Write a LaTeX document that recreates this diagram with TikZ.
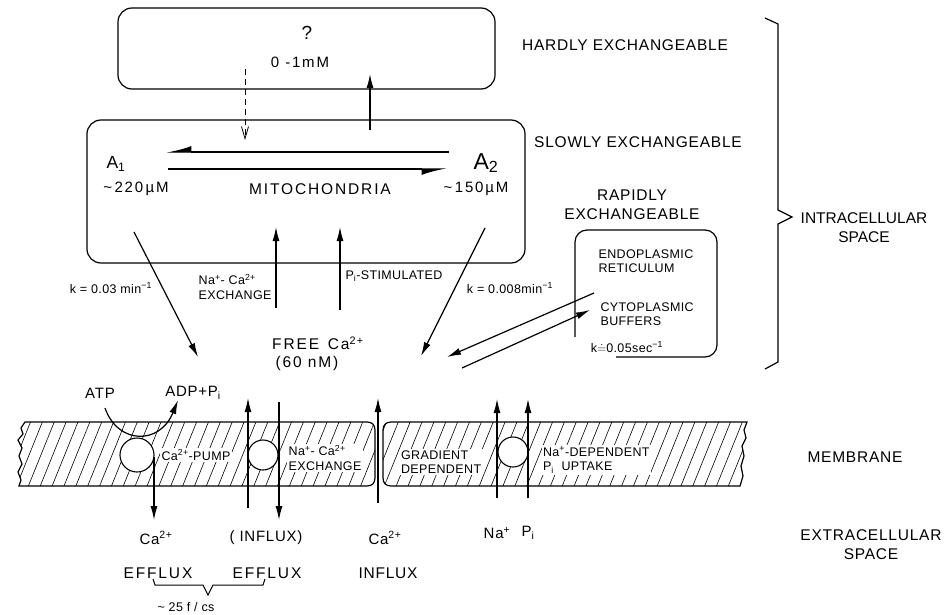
\documentclass[tikz,border=0pt]{standalone}
\usepackage{fontspec}
\setmainfont{Liberation Sans}
\newfontfamily\spc[LetterSpace=5]{Liberation Sans}
\newfontfamily\spcs[LetterSpace=3]{Liberation Sans}
\newfontfamily\wide[LetterSpace=12]{Liberation Sans}
\usetikzlibrary{arrows.meta,patterns.meta}
\begin{document}
\begin{tikzpicture}[x=1pt,y=-1pt,line width=1.1pt,
  box/.style={draw,line width=1.2pt,rounded corners=14pt,inner sep=0pt},
  big/.style={font={\fontsize{15.5}{19}\spc},inner sep=1pt},
  wbig/.style={font={\fontsize{15.5}{19}\wide},inner sep=1pt},
  mid/.style={font={\fontsize{15}{17}\wide},inner sep=1pt},
  plain/.style={font={\fontsize{15}{17}\spc},inner sep=1pt},
  sml/.style={font={\fontsize{12.5}{14.5}\spcs},inner sep=1pt,align=left},
  arr/.style={-{Latex[length=14pt,width=7pt]},line width=1.2pt},
  harp/.style={-{Latex[length=22pt,width=12pt,harpoon,swap]},line width=1.2pt},
  hatch/.style={draw,line width=1.2pt,pattern={Lines[angle=68,distance=11pt,line width=0.6pt]}},
  pore/.style={circle,draw,fill=white,line width=1.1pt,inner sep=0pt},
  wlbl/.style={sml,fill=white,inner sep=1.5pt}]
\useasboundingbox (0,0) rectangle (947,615);

% compartments
\node[box,minimum width=377pt,minimum height=81pt] (hard) at (306.5,48.5) {};
\node[box,minimum width=438pt,minimum height=143pt] (mito) at (306,191.5) {};
\node[box,rounded corners=12pt,minimum width=142pt,minimum height=127pt] (rapid) at (646,293.5) {};
\fill[white] (572,337) rectangle (616,361);

\node[font=\fontsize{19}{21}\selectfont] (q) at (307,33) {?};
\node[mid] (conc) at (300,62) {0 -1mM};
\node[big] (hardlbl) at (625,45) {HARDLY EXCHANGEABLE};
\node[big] (slowlbl) at (638,142) {SLOWLY EXCHANGEABLE};
\node[big,align=center] (rapidlbl) at (632,205) {RAPIDLY\\EXCHANGEABLE};
\node[font=\fontsize{17.5}{20}\selectfont] (A1) at (116,164) {A\textsubscript{1}};
\node[font=\fontsize{23}{25}\selectfont] (A2) at (486,163) {A\textsubscript{2}};
\node[mid] (c1) at (136,189) {\textasciitilde\,220\,µM};
\node[mid] (c2) at (476,189) {\textasciitilde\,150µM};
\node[wbig] (mitolbl) at (320,189) {MITOCHONDRIA};

\node[sml,anchor=west] (er) at (597,261) {ENDOPLASMIC\\RETICULUM};
\node[sml,anchor=west] (cb) at (599,314) {CYTOPLASMIC\\BUFFERS};

% brace
\draw[line width=1.2pt] (765,18) -- (778,24) -- (778,210) -- (792,217) -- (778,224) -- (778,362) -- (765,369);
\node[font=\fontsize{15.5}{19}\selectfont,align=center,inner sep=1pt] (intra) at (864,228) {INTRACELLULAR\\SPACE};

% exchange arrows inside mitochondria / to hardly
\coordinate (d1) at (245,69);
\coordinate (d2) at (245,140);
\draw[line width=1pt,dash pattern=on 6pt off 4pt,-{Straight Barb[length=12pt,width=7pt,line width=0.8pt]}] (d1) -- (d2);
\coordinate (u1) at (370,130);
\coordinate (u2) at (370,74);
\draw[arr] (u1) -- (u2);
\coordinate (h1) at (449,152);
\coordinate (h2) at (166,152);
\coordinate (h3) at (168,169);
\coordinate (h4) at (447,169);
\draw[harp] (h1) -- (h2);
\draw[harp] (h3) -- (h4);

% cytosol
\node[wbig] (free) at (318,343) {FREE\ \,Ca\textsuperscript{2+}};
\node[wbig] (nm) at (307,363) {(60 nM)};

\coordinate (l1) at (134,232);
\coordinate (l2) at (198,357);
\draw[arr] (l1) -- (l2);
\node[sml] (k1) at (111,288) {k = 0.03 min\textsuperscript{−1}};
\coordinate (m1) at (276,308);
\coordinate (m2) at (276,227);
\draw[arr] (m1) -- (m2);
\coordinate (p1) at (340,310);
\coordinate (p2) at (340,227);
\draw[arr] (p1) -- (p2);
\node[sml,anchor=east,align=left] (naca1) at (273,287) {Na\textsuperscript{+}- Ca\textsuperscript{2+}\\EXCHANGE};
\node[sml,anchor=west] (pist) at (344,276) {P\textsubscript{i}-STIMULATED};
\coordinate (r1) at (485,228);
\coordinate (r2) at (421,356);
\draw[arr] (r1) -- (r2);
\node[sml] (k2) at (510,288) {k = 0.008min\textsuperscript{−1}};

\coordinate (s1) at (594,293);
\coordinate (s2) at (447,357);
\draw[arr] (s1) -- (s2);
\coordinate (s3) at (462,368);
\coordinate (s4) at (590,310);
\draw[arr] (s3) -- (s4);
\node[sml,inner sep=0.5pt] (k3) at (627,347) {k$\doteq$0.05sec\textsuperscript{−1}};

% membrane
\draw[hatch] (25,422) -- (367,422) .. controls (372,422) and (375,425) .. (375,430) -- (375,478) .. controls (375,483) and (372,486) .. (367,486) -- (19,486) -- (21,480) -- (18,472) -- (22,464) -- (19,456) -- (22,448) -- (18,440) -- (23,434) -- (21,428) -- cycle;
\draw[hatch] (391,422) -- (747,422) -- (744,430) -- (746,438) -- (742,446) -- (744,456) -- (741,466) -- (743,476) -- (740,486) -- (391,486) .. controls (386,486) and (383,483) .. (383,478) -- (383,430) .. controls (383,425) and (386,422) .. (391,422) -- cycle;

\node[pore,minimum size=34pt] (pump) at (137,455) {};
\node[pore,minimum size=30pt] (ncx) at (263,455) {};
\node[pore,minimum size=30pt] (npi) at (513,452) {};

\node[wlbl] (pumplbl) at (196,455) {Ca\textsuperscript{2+}-PUMP};
\node[wlbl] (ncxlbl) at (325,458) {Na\textsuperscript{+}- Ca\textsuperscript{2+}\\EXCHANGE};
\node[wlbl,anchor=west] (grad) at (399,462) {GRADIENT\\DEPENDENT};
\node[wlbl,anchor=west] (npilbl) at (541,460) {Na\textsuperscript{+}-DEPENDENT\\P\textsubscript{i}\ \ UPTAKE};

\node[plain] (atp) at (100,393) {ATP};
\node[plain] (adp) at (193,393) {ADP+P\textsubscript{i}};
\coordinate (a1) at (105,408);
\coordinate (a2) at (178,400);
\draw[arr] (a1) .. controls (118,445) and (160,445) .. (a2);

\coordinate (e1) at (154,457);
\coordinate (e2) at (154,520);
\draw[arr] (e1) -- (e2);
\coordinate (f1) at (248,508);
\coordinate (f2) at (248,398);
\draw[arr] (f1) -- (f2);
\coordinate (g1) at (279,402);
\coordinate (g2) at (279,520);
\draw[arr] (g1) -- (g2);
\coordinate (i1) at (378,503);
\coordinate (i2) at (378,398);
\draw[arr] (i1) -- (i2);
\coordinate (n1) at (497,498);
\coordinate (n2) at (497,399);
\draw[arr] (n1) -- (n2);
\coordinate (o1) at (528,498);
\coordinate (o2) at (528,399);
\draw[arr] (o1) -- (o2);

\node[plain] (ca1) at (156,538) {Ca\textsuperscript{2+}};
\node[plain] (infl1) at (266,538) {( INFLUX)};
\node[plain] (ca2) at (385,538) {Ca\textsuperscript{2+}};
\node[plain] (na) at (497,533) {Na\textsuperscript{+}};
\node[plain] (pi) at (528,533) {P\textsubscript{i}};

\node[wbig] (ef1) at (158,573) {EFFLUX};
\node[wbig] (ef2) at (267,573) {EFFLUX};
\node[big] (inf2) at (388,573) {INFLUX};
\draw[line width=1pt] (153,579) -- (155,585) -- (203,585) -- (208,595) -- (213,585) -- (263,585) -- (265,579);
\node[sml] (rate) at (186,607) {\textasciitilde\ 25 f / cs};

\node[big] (memb) at (855,457) {MEMBRANE};
\node[big,align=center] (extra) at (871,545) {EXTRACELLULAR\\SPACE};
\end{tikzpicture}
\end{document}
